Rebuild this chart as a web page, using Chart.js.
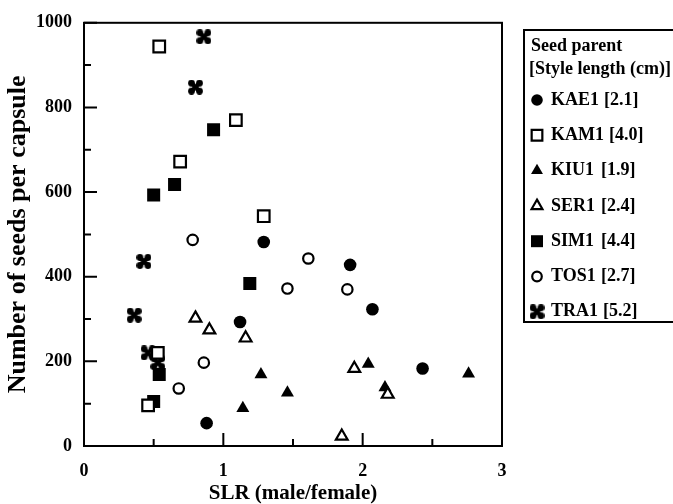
<!DOCTYPE html>
<html>
<head>
<meta charset="utf-8">
<script src="https://cdn.jsdelivr.net/npm/chart.js@4/dist/chart.umd.min.js"></script>
<style>
  html, body { margin: 0; padding: 0; background: #fff; }
  #wrap { width: 673px; height: 504px; }
</style>
</head>
<body>
<div id="wrap"><canvas id="chart" width="673" height="504"></canvas></div>
<script>
// seed parents and their style lengths
const parents = ["KAE1", "KAM1", "KIU1", "SER1", "SIM1", "TOS1", "TRA1"];
const styleLengths = ["[2.1]", "[4.0]", "[1.9]", "[2.4]", "[4.4]", "[2.7]", "[5.2]"];

// SLR (x) and seeds per capsule (y)
const kae1X = [0.88, 1.12, 1.29, 1.91, 2.07, 2.43];
const kae1Y = [54, 293, 482, 428, 323, 183];
const kam1X = [0.46, 0.53, 0.54, 0.69, 1.09, 1.29];
const kam1Y = [96, 220, 944, 672, 770, 543];
const kiu1X = [1.14, 1.27, 1.46, 2.04, 2.16, 2.76];
const kiu1Y = [89, 169, 126, 194, 138, 171];
const ser1X = [0.80, 0.90, 1.16, 1.85, 1.94, 2.18];
const ser1Y = [302, 274, 255, 23, 183, 122];
const sim1X = [0.50, 0.50, 0.54, 0.65, 0.93, 1.19];
const sim1Y = [105, 593, 169, 618, 747, 384];
const tos1X = [0.68, 0.78, 0.86, 1.46, 1.61, 1.89];
const tos1Y = [136, 487, 197, 372, 443, 370];
const tra1X = [0.36, 0.43, 0.46, 0.53, 0.80, 0.86];
const tra1Y = [309, 436, 220, 197, 848, 967];

// axis ticks
const xTicks = [0, 1, 2, 3];
const xMinorTicks = [0.5, 1.5, 2.5];
const yTicks = [0, 200, 400, 600, 800, 1000];
const yMinorTicks = [100, 300, 500, 700, 900];

const serif = "'Liberation Serif', 'DejaVu Serif', serif";

function pts(xs, ys) {
  return xs.map((x, i) => ({ x: x, y: ys[i] }));
}

// bold clover-cross marker for TRA1
function cloverMarker() {
  const c = document.createElement("canvas");
  c.width = 15;
  c.height = 15;
  const g = c.getContext("2d");
  g.fillStyle = "#000";
  g.strokeStyle = "#000";
  g.lineWidth = 4.5;
  g.beginPath();
  g.moveTo(3.5, 3.5); g.lineTo(11.5, 11.5);
  g.moveTo(11.5, 3.5); g.lineTo(3.5, 11.5);
  g.stroke();
  [[3.5, 3.5], [11.5, 3.5], [3.5, 11.5], [11.5, 11.5]].forEach(p => {
    g.beginPath();
    g.arc(p[0], p[1], 3.4, 0, Math.PI * 2);
    g.fill();
  });
  return c;
}
const clover = cloverMarker();

function ds(label, xs, ys, style, filled, radius) {
  return {
    label: label,
    data: pts(xs, ys),
    pointStyle: style,
    pointRadius: radius,
    pointBorderWidth: filled ? 0 : 2.2,
    pointBackgroundColor: filled ? "#000" : "#fff",
    pointBorderColor: "#000",
    showLine: false,
  };
}

const datasets = [
  ds(parents[1], kam1X, kam1Y, "rect", false, 8.2),
  ds(parents[3], ser1X, ser1Y, "triangle", false, 6.8),
  ds(parents[5], tos1X, tos1Y, "circle", false, 5.2),
  ds(parents[0], kae1X, kae1Y, "circle", true, 6.3),
  ds(parents[2], kiu1X, kiu1Y, "triangle", true, 7.5),
  ds(parents[4], sim1X, sim1Y, "rect", true, 9.2),
  ds(parents[6], tra1X, tra1Y, clover, true, 7),
];
// legend order follows the parents list
const legendOrder = [3, 0, 4, 1, 5, 2, 6];

const framePlugin = {
  id: "frame",
  beforeDatasetsDraw(chart) {
    const { ctx, chartArea: a, scales } = chart;
    ctx.save();
    ctx.strokeStyle = "#000";
    ctx.lineWidth = 2;
    ctx.strokeRect(a.left, a.top, a.right - a.left, a.bottom - a.top);
    ctx.beginPath();
    xTicks.concat(xMinorTicks).forEach(v => {
      const len = xTicks.includes(v) ? 13 : 7;
      const px = scales.x.getPixelForValue(v);
      ctx.moveTo(px, a.bottom);
      ctx.lineTo(px, a.bottom - len);
    });
    yTicks.concat(yMinorTicks).forEach(v => {
      const len = yTicks.includes(v) ? 13 : 7;
      const py = scales.y.getPixelForValue(v);
      ctx.moveTo(a.left, py);
      ctx.lineTo(a.left + len, py);
    });
    ctx.stroke();
    ctx.restore();
  },
};

const legendPlugin = {
  id: "boxLegend",
  afterDraw(chart) {
    const ctx = chart.ctx;
    ctx.save();
    ctx.strokeStyle = "#000";
    ctx.lineWidth = 2;
    ctx.strokeRect(524, 30, 170, 292);
    ctx.fillStyle = "#000";
    ctx.textBaseline = "middle";
    ctx.font = "bold 18px " + serif;
    ctx.fillText("Seed parent", 531, 46);
    ctx.fillText("[Style length (cm)]", 529, 69);
    legendOrder.forEach((di, row) => {
      const d = datasets[di];
      const y = 100 + row * 35.3;
      ctx.fillStyle = d.pointBackgroundColor;
      ctx.strokeStyle = "#000";
      ctx.lineWidth = d.pointBorderWidth;
      Chart.helpers.drawPoint(ctx, {
        pointStyle: d.pointStyle,
        radius: d.pointRadius * 0.92,
        rotation: 0,
        borderWidth: d.pointBorderWidth,
      }, 537, y);
      ctx.fillStyle = "#000";
      ctx.fillText(d.label, 551, y);
      const w = ctx.measureText(d.label).width;
      ctx.fillText(styleLengths[parents.indexOf(d.label)], Math.max(601, 551 + w + 5), y);
    });
    ctx.restore();
  },
};

new Chart(document.getElementById("chart"), {
  type: "scatter",
  data: { datasets: datasets },
  options: {
    responsive: false,
    animation: false,
    devicePixelRatio: 1,
    layout: { padding: { left: 5, top: 19, right: 171, bottom: 0 } },
    plugins: {
      legend: { display: false },
      tooltip: { enabled: false },
    },
    scales: {
      x: {
        type: "linear",
        min: 0,
        max: 3,
        afterBuildTicks: s => { s.ticks = xTicks.map(v => ({ value: v })); },
        afterFit: s => { s.height = 58; },
        grid: { display: false, drawTicks: false },
        border: { display: false },
        ticks: {
          color: "#000",
          padding: 15,
          maxRotation: 0,
          callback: v => String(v),
          font: { family: serif, size: 18, weight: "bold" },
        },
        title: {
          display: true,
          text: "SLR (male/female)",
          color: "#000",
          padding: 0,
          font: { family: serif, size: 21, weight: "bold", lineHeight: 1 },
        },
      },
      y: {
        type: "linear",
        min: 0,
        max: 1000,
        afterBuildTicks: s => { s.ticks = yTicks.map(v => ({ value: v })); },
        afterFit: s => { s.width = 79; },
        grid: { display: false, drawTicks: false },
        border: { display: false },
        ticks: {
          color: "#000",
          padding: 12,
          callback: v => String(v),
          font: { family: serif, size: 18, weight: "bold" },
        },
        title: {
          display: true,
          text: "Number of seeds per capsule",
          color: "#000",
          padding: 0,
          font: { family: serif, size: 26, weight: "bold", lineHeight: 1 },
        },
      },
    },
  },
  plugins: [framePlugin, legendPlugin],
});
</script>
</body>
</html>
